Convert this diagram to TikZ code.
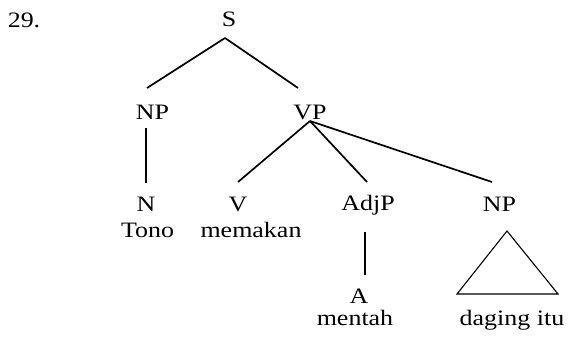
\documentclass[tikz,border=0pt]{standalone}
\usepackage{fontspec}
\setmainfont{Liberation Serif}[FakeStretch=1.18]
\usetikzlibrary{calc}

\begin{document}
\begin{tikzpicture}[x=1pt, y=-1pt]
        \tikzstyle{every node} = [font=\fontsize{22}{26}\selectfont, inner sep=0pt, anchor=base]
        \tikzstyle{cabang}     = [line width=1.7pt]
        \tikzstyle{segitiga}   = [line width=1.1pt, line join=miter]

        \useasboundingbox (0,0) rectangle (569,339);

        \node (nomor)  at (24,28)    {29.};
        \node (S)      at (229,27)   {S};
        \node (NPa)    at (152.5,120){NP};
        \node (VP)     at (310,120)  {VP};
        \node (N)      at (146,211)  {N};
        \node (Tono)   at (147.5,237){Tono};
        \node (V)      at (238,211)  {V};
        \node (memakan) at (251,237) {memakan};
        \node (AdjP)   at (368,210)  {AdjP};
        \node (NPb)    at (499.5,211){NP};
        \node (A)      at (359,303)  {A};
        \node (mentah) at (355,325)  {mentah};
        \node (daging) at (512,325)  {daging itu};

        % Cabang-cabang pohon.
        \draw[cabang] ($(S.base)+(-4,11)$)    -- ($(NPa.base)+(-5.5,-32)$);
        \draw[cabang] ($(S.base)+(-4,11)$)    -- ($(VP.base)+(-12,-32)$);
        \draw[cabang] ($(NPa.base)+(-6.5,8)$) -- ($(N.base)+(0,-28)$);
        \draw[cabang] ($(VP.base)+(0,1)$)     -- ($(V.base)+(0,-29)$);
        \draw[cabang] ($(VP.base)+(0,1)$)     -- ($(AdjP.base)+(-1,-28)$);
        \draw[cabang] ($(VP.base)+(0,1)$)     -- ($(NPb.base)+(-7.5,-29)$);
        \draw[cabang] ($(AdjP.base)+(-3,22)$) -- ($(A.base)+(6,-28)$);

        % Segitiga untuk NP.
        \draw[segitiga] ($(NPb.base)+(7.5,20)$) -- ($(daging.base)+(46,-31)$)
                     -- ($(daging.base)+(-55,-31)$) -- cycle;
\end{tikzpicture}
\end{document}
